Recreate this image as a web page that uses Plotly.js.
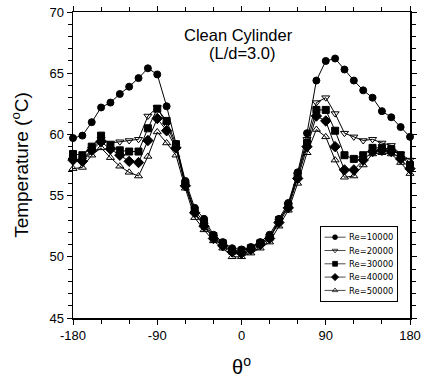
<!DOCTYPE html>
<html>
<head>
<meta charset="utf-8">
<script src="https://cdn.plot.ly/plotly-3.0.1.min.js"></script>
<style>html,body{margin:0;padding:0;background:#fff;}#chart{width:433px;height:381px;}</style>
</head>
<body>
<div id="chart"></div>
<script>
const theta = [-180,-170,-160,-150,-140,-130,-120,-110,-100,-90,-80,-70,-60,-50,-40,-30,-20,-10,0,10,20,30,40,50,60,70,80,90,100,110,120,130,140,150,160,170,180];

const re10000 = [59.7,59.9,61.0,62.2,62.6,63.3,63.9,64.6,65.4,64.9,62.3,59.2,56.2,54.0,53.1,51.8,51.2,50.7,50.6,50.8,51.2,51.8,53.1,54.4,56.9,60.1,64.4,66.0,66.2,65.3,64.4,63.6,63.0,61.9,61.4,60.6,59.8];
const re20000 = [58.0,57.9,58.8,59.6,59.3,59.4,59.5,59.6,61.5,62.2,60.8,59.0,55.9,53.6,52.6,51.6,51.0,50.3,50.2,50.5,50.9,51.5,52.9,54.2,56.7,59.6,62.6,63.0,61.7,60.1,59.8,59.5,59.6,59.3,59.1,58.4,57.9];
const re30000 = [58.4,58.3,59.0,59.9,59.1,58.7,58.6,58.6,60.5,62.1,61.1,59.2,56.0,53.8,52.8,51.7,51.1,50.5,50.5,50.7,51.1,51.6,53.0,54.2,56.6,59.3,62.0,62.0,60.3,58.3,58.0,58.3,58.9,58.9,58.8,58.3,57.5];
const re40000 = [57.9,57.8,58.7,59.4,58.8,58.3,57.8,57.7,59.5,61.3,60.3,58.9,55.8,53.6,52.5,51.5,50.9,50.4,50.3,50.6,51.0,51.5,52.8,54.0,56.4,59.0,61.5,61.1,59.0,57.1,57.1,57.9,58.6,58.7,58.6,58.0,57.2];
const re50000 = [57.2,57.3,58.3,58.9,58.1,57.4,56.9,56.6,58.2,60.2,59.3,58.3,55.6,53.2,52.2,51.3,50.7,50.0,50.0,50.3,50.7,51.2,52.5,53.8,56.0,58.5,60.4,59.8,57.9,56.5,56.6,57.5,58.4,58.5,58.4,57.7,56.8];

const seriesNames = ["Re=10000","Re=20000","Re=30000","Re=40000","Re=50000"];
const seriesData = [re10000, re20000, re30000, re40000, re50000];
const symbols = ["circle","triangle-down-open","square","diamond","triangle-up-open"];
const sizes = [7,7,7,8,7];

const traces = seriesData.map((y, i) => ({
  x: theta,
  y: y,
  name: seriesNames[i],
  type: "scatter",
  mode: "lines+markers",
  cliponaxis: false,
  line: {color: "black", width: 1},
  marker: {symbol: symbols[i], size: sizes[i], color: "black",
           line: {color: "black", width: 1}}
}));

const fontFam = "Liberation Sans, Arial, sans-serif";

const layout = {
  width: 433, height: 381,
  margin: {l: 73, r: 10, t: 12, b: 63},
  paper_bgcolor: "white", plot_bgcolor: "white",
  font: {family: fontFam, color: "black", size: 13},
  showlegend: true,
  legend: {
    x: 0.706, y: 0.297, xanchor: "left", yanchor: "top",
    bordercolor: "black", borderwidth: 1.5, bgcolor: "white",
    font: {size: 12, family: "DejaVu Sans, sans-serif"}, itemwidth: 30, tracegroupgap: 0
  },
  xaxis: {
    range: [-180, 180], tickmode: "array", tickvals: [-180,-90,0,90,180],
    ticktext: ["-180","-90","0","90","180"],
    ticks: "outside", ticklen: 5, tickwidth: 1, tickcolor: "black",
    minor: {tickmode: "linear", tick0: -180, dtick: 30, ticklen: 4, tickcolor: "black", ticks: "outside"},
    showline: true, linecolor: "black", linewidth: 1.5, mirror: "ticks",
    showgrid: false, zeroline: false,
    tickfont: {size: 13},
    title: {text: "θ<sup>o</sup>", font: {size: 20}, standoff: 18}
  },
  yaxis: {
    range: [45, 70], tick0: 45, dtick: 5,
    ticks: "outside", ticklen: 5, tickwidth: 1, tickcolor: "black",
    minor: {dtick: 1, ticklen: 4, tickcolor: "black", ticks: "outside"},
    showline: true, linecolor: "black", linewidth: 1.5, mirror: "ticks",
    showgrid: false, zeroline: false,
    tickfont: {size: 13},
    title: {text: "Temperature (<sup>o</sup>C)", font: {size: 19}, standoff: 16}
  },
  annotations: [
    {text: "Clean Cylinder", xref: "paper", yref: "paper", x: 0.491, y: 0.925,
     xanchor: "center", yanchor: "middle", showarrow: false, font: {size: 16.5}},
    {text: "(L/d=3.0)", xref: "paper", yref: "paper", x: 0.503, y: 0.866,
     xanchor: "center", yanchor: "middle", showarrow: false, font: {size: 16.5}}
  ]
};

Plotly.newPlot("chart", traces, layout, {staticPlot: true, displayModeBar: false}).then(gd => {
  const lg = gd.querySelector("g.legend");
  if (lg) lg.setAttribute("transform", "translate(320,226) scale(0.7)");
});
</script>
</body>
</html>
